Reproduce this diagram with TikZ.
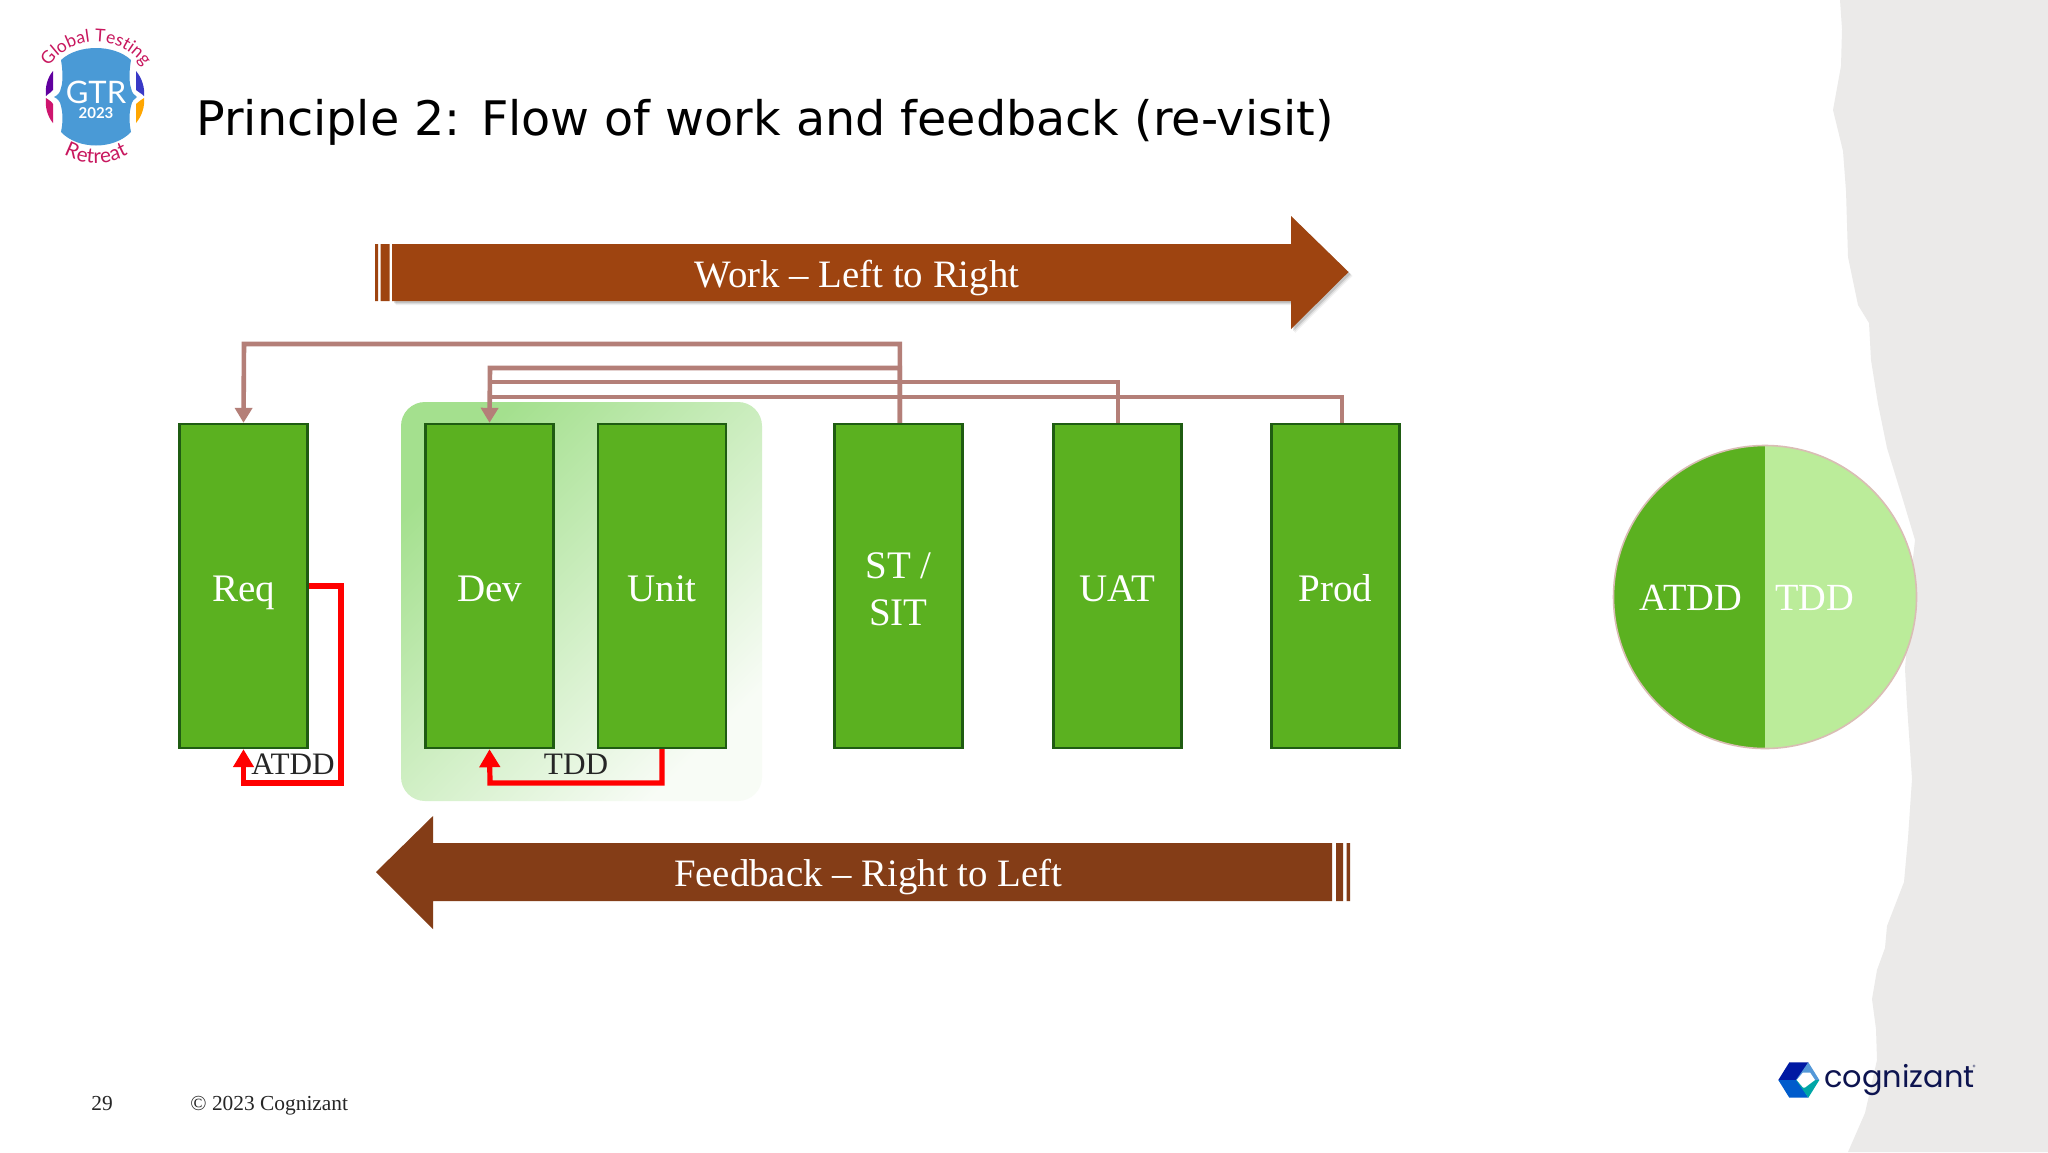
\documentclass[tikz,border=0pt]{standalone}
\usepackage{fontspec}
\usetikzlibrary{arrows.meta,decorations.text,shadings}
\setmainfont{Liberation Serif}
\newfontfamily\titlef{DejaVu Sans}
\newfontfamily\logof{Lato}
\newfontfamily\cogf{Poppins}
\definecolor{paper}{HTML}{EBEAE9}
\definecolor{boxg}{HTML}{5BB120}
\definecolor{boxd}{HTML}{1F5C12}
\definecolor{rail}{HTML}{B47F78}
\definecolor{workc}{HTML}{9E4410}
\definecolor{backc}{HTML}{843D17}
\definecolor{lightg}{HTML}{BBEC9A}
\definecolor{discb}{HTML}{D9BDB4}
\definecolor{crim}{HTML}{C8175E}
\definecolor{gtrb}{HTML}{4A9AD6}
\definecolor{cogn}{HTML}{0D1450}
\definecolor{panela}{HTML}{A4E08E}
\definecolor{panelb}{HTML}{F8FCF6}
\tikzset{
  stage/.style={draw=boxd,line width=1.2pt,fill=boxg,minimum width=64pt,minimum height=162pt,inner sep=0pt,text=white,
    font=\fontsize{19.5}{23.5}\selectfont,text height=15pt,text depth=0pt},
  railline/.style={draw=rail,line width=2.3pt},
  railarrow/.style={railline,-{Triangle[length=7.5pt,width=8.5pt]}},
  loopline/.style={draw=red,line width=2.6pt,-{Triangle[length=9pt,width=10pt]}},
  arrowtext/.style={text=white,anchor=base,inner sep=0pt,font=\fontsize{19.4}{22}\selectfont},
  small/.style={anchor=base,inner sep=0pt,text=black!85,font=\fontsize{15.6}{17}\selectfont},
  disctext/.style={anchor=base,inner sep=0pt,text=white,font=\fontsize{19.2}{22}\selectfont},
  foot/.style={anchor=base,inner sep=0pt,text=black!85,font=\fontsize{10.7}{12}\selectfont},
}
\begin{document}
\begin{tikzpicture}[x=0.5pt,y=-0.5pt]
\useasboundingbox (0,0) rectangle (2048,1152);
\fill[white] (0,0) rectangle (2048,1152);
% torn paper edge
\fill[paper] (1840,0) -- (1842,29) -- (1841,66) -- (1833,110) -- (1843,151) -- (1846,191) -- (1848,257) -- (1858,305) -- (1869,323) -- (1871,360) -- (1878,404) -- (1887,448) -- (1903,500) -- (1915,540) -- (1913,558) -- (1905,669) -- (1907,705) -- (1912,779) -- (1908,838) -- (1904,882) -- (1887,926) -- (1885,948) -- (1877,970) -- (1872,999) -- (1876,1029) -- (1877,1060) -- (1865,1113) -- (1848,1152) -- (2048,1152) -- (2048,0) -- cycle;

% GTR logo
\fill[gtrb] (61,60) .. controls (78,44) and (114,44) .. (131,60) .. controls (129,72) and (129,82) .. (131,88) .. controls (132,93) and (134,95) .. (137,97) .. controls (134,99) and (132,101) .. (131,106) .. controls (129,114) and (129,122) .. (131,132) .. controls (114,150) and (78,150) .. (61,132) .. controls (63,122) and (63,114) .. (61,106) .. controls (60,101) and (58,99) .. (54,97) .. controls (58,95) and (60,93) .. (61,88) .. controls (63,82) and (63,72) .. (61,60) -- cycle;
\fill[violet!75!blue] (53,71) .. controls (47,78) and (45,88) .. (46,96) .. controls (49,93) and (52,92) .. (53,90) -- cycle;
\fill[crim!90!magenta] (53,123) .. controls (47,116) and (45,106) .. (46,98) .. controls (49,100) and (52,102) .. (53,104) -- cycle;
\fill[blue!55!gray] (136,71) .. controls (142,78) and (145,88) .. (144,96) .. controls (141,93) and (138,92) .. (136,90) -- cycle;
\fill[orange!70!yellow] (136,123) .. controls (142,116) and (145,106) .. (144,98) .. controls (141,100) and (138,102) .. (136,104) -- cycle;
\node[anchor=base,inner sep=0pt,text=white,font=\logof\fontsize{15.5}{17}\selectfont] (gtr) at (96,103) {GTR};
\node[anchor=base,inner sep=0pt,text=white,font=\logof\bfseries\fontsize{7.5}{8}\selectfont] (gtry) at (96,118.5) {2023};
\path[decorate,decoration={text along path,text align=center,text={|\logof\fontsize{8.8}{10}\selectfont\color{crim}|Global Testing}}] (96,100) ++(195:58) arc[start angle=195,end angle=345,radius=58];
\path[decorate,decoration={text along path,text align=center,text={|\logof\fontsize{10.3}{10}\selectfont\color{crim}|Retreat}}] (96,97) ++(150:66) arc[start angle=150,end angle=30,radius=66];

% title
\node[anchor=base west,inner sep=0pt,font=\titlef\fontsize{23.8}{26}\selectfont] (title) at (196,135) {Principle 2: Flow of work and feedback (re-visit)};

% work arrow
\foreach \d/\o in {4/.05,3/.08,2/.12}{
\fill[black,opacity=\o] (392+\d,244+\d) -- (1291+\d,244+\d) -- (1291+\d,216+\d) -- (1348.5+\d,272+\d) -- (1291+\d,329+\d) -- (1291+\d,301+\d) -- (392+\d,301+\d) -- cycle;}
\fill[workc] (392,244) -- (1291,244) -- (1291,216) -- (1348.5,272) -- (1291,329) -- (1291,301) -- (392,301) -- cycle;
\fill[workc] (375,244) rectangle (378,301) (380.5,244) rectangle (389.5,301);
\node[arrowtext] (work) at (857,287.5) {Work – Left to Right};

% feedback arrow
\fill[backc] (1332,843) -- (433,843) -- (433,816) -- (376,872) -- (433,929) -- (433,901) -- (1332,901) -- cycle;
\fill[backc] (1336,843) rectangle (1343,901) (1346.5,843) rectangle (1350,901);
\node[arrowtext] (feedback) at (868,886.5) {Feedback – Right to Left};

% panel
\node[draw=none,rounded corners=12pt,minimum width=180.5pt,minimum height=199.5pt,inner sep=0pt,shading=axis,left color=panela,right color=panelb,shading angle=45] (panel) at (581.5,601.5) {};

% stages
\node[stage] (req) at (243.5,586) {Req};
\node[stage] (dev) at (489.5,586) {Dev};
\node[stage] (unit) at (662,586) {Unit};
\node[stage,align=center,text height=39pt] (st) at (898.5,586) {ST /\\SIT};
\node[stage] (uat) at (1117.5,586) {UAT};
\node[stage] (prod) at (1335.5,586) {Prod};

% rails
\coordinate (railA) at (244,344);
\coordinate (railB) at (490,368);
\coordinate (railC) at (490,382);
\coordinate (railD) at (490,397);
\draw[railarrow] ([xshift=.7pt]st.north) |- (railA) -- (req.north);
\draw[railarrow] ([xshift=.7pt]st.north) |- (railB) -- (dev.north);
\draw[railline] ([xshift=.3pt]uat.north) |- (railC);
\draw[railline] ([xshift=3.25pt]prod.north) |- (railD);

% red loops
\coordinate (atddc) at (341,783);
\coordinate (tddc) at (490,783);
\draw[loopline] (req.east) -| (atddc) -| (req.south);
\draw[loopline] (unit.south) |- (tddc) -- (dev.south);
\node[small] (atddl) at (293,774) {ATDD};
\node[small] (tddl) at (576,774) {TDD};

% disc
\fill[boxg] (1765,445.5) arc[start angle=-90,end angle=-270,radius=151.5] -- cycle;
\fill[lightg] (1765,445.5) arc[start angle=-90,end angle=90,radius=151.5] -- cycle;
\draw[discb,line width=.8pt] (1765,597) circle[radius=151.5];
\node[disctext] (da) at (1691,610.5) {ATDD};
\node[disctext] (dt) at (1814.5,610.5) {TDD};

% footer
\node[foot] (pg) at (102,1110) {29};
\node[foot,anchor=base west] (cr) at (190,1110) {© 2023 Cognizant};

% cognizant logo
\fill[blue!60!black!90!cyan] (1778.3,1080) -- (1789.3,1062.3) -- (1808.3,1062.3) -- (1798,1080) -- cycle;
\fill[blue!55!cyan!80!black] (1778.3,1080) -- (1789.3,1097.7) -- (1808.3,1097.7) -- (1798,1080) -- cycle;
\fill[cyan!60!blue!70!white] (1808.3,1062.3) -- (1819.3,1080) -- (1796,1080) -- cycle;
\fill[teal!70!cyan] (1808.3,1097.7) -- (1819.3,1080) -- (1796,1080) -- cycle;
\fill[white] (1796.7,1080) -- (1803,1072.5) -- (1810,1072.5) -- (1815,1080) -- (1805,1087.5) -- (1803,1087.5) -- cycle;
\node[anchor=base west,inner sep=0pt,text=cogn,font=\cogf\fontsize{15.2}{18}\selectfont] (cog) at (1824,1087) {cognizant};
\node[inner sep=0pt,text=cogn,font=\cogf\fontsize{3}{4}\selectfont] (reg) at (1974,1067) {®};
\end{tikzpicture}
\end{document}
